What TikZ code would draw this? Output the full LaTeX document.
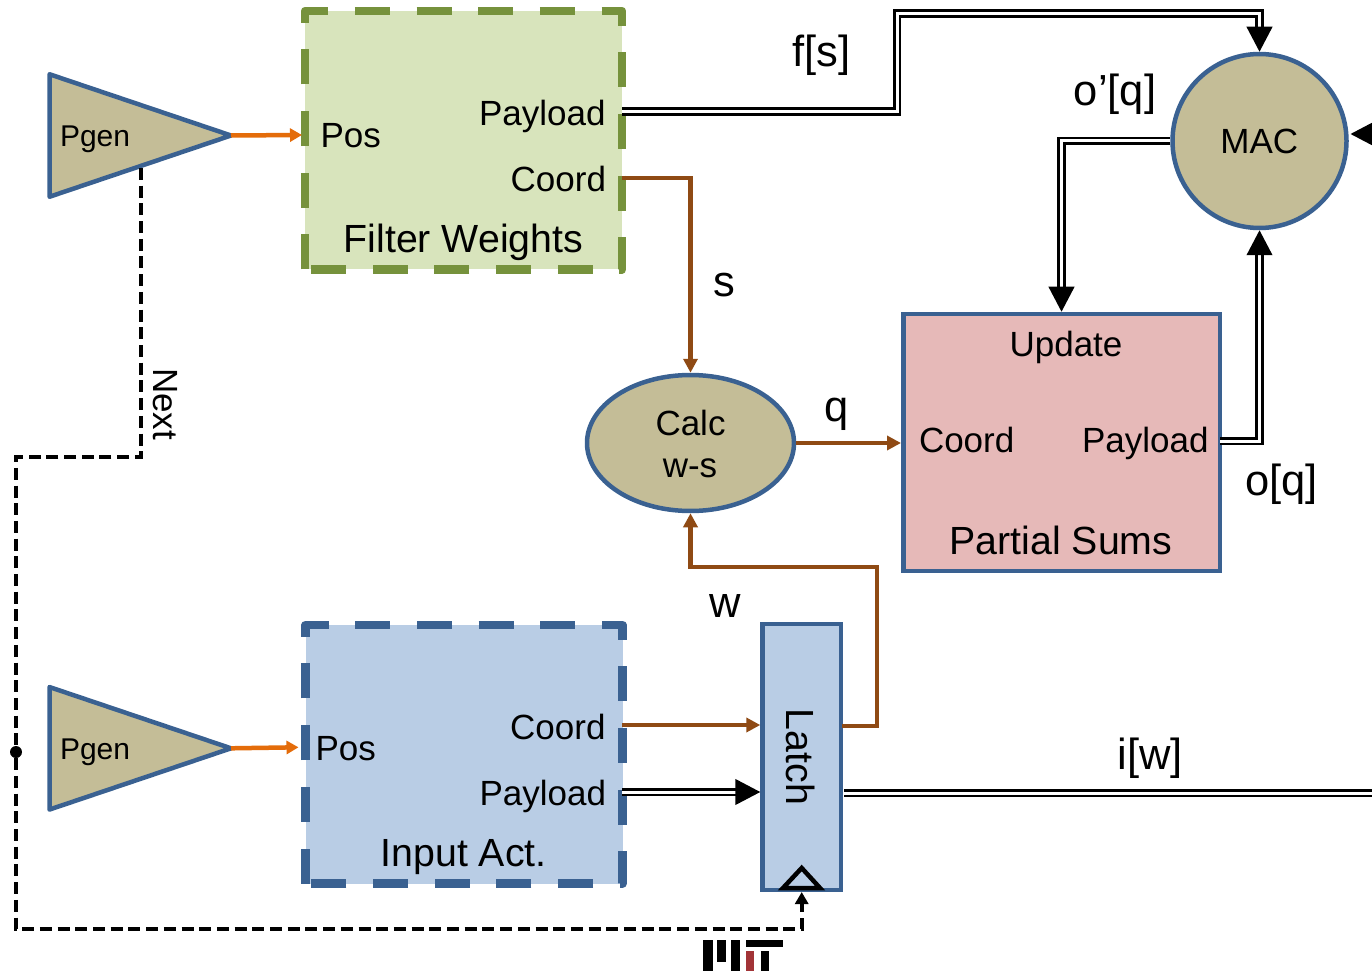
\documentclass[tikz,border=0pt]{standalone}
\usepackage{fontspec}
\setmainfont{Liberation Sans}
\usetikzlibrary{arrows.meta,shapes.geometric}
\definecolor{tanfill}{HTML}{C4BD97}
\definecolor{edgeblue}{HTML}{3A6191}
\definecolor{leaf}{HTML}{D8E4BC}
\definecolor{olive}{HTML}{76923C}
\definecolor{sky}{HTML}{B9CDE5}
\definecolor{rose}{HTML}{E6B9B8}
\definecolor{rust}{HTML}{8F4A14}
\definecolor{amber}{HTML}{E46C0A}
\definecolor{logored}{HTML}{A23437}
\newcommand{\fsa}{\fontsize{30}{34}\selectfont}
\newcommand{\fsb}{\fontsize{35}{40}\selectfont}
\newcommand{\fsc}{\fontsize{39.3}{44}\selectfont}
\newcommand{\fsd}{\fontsize{43.5}{48}\selectfont}
\tikzset{
  lab/.style={anchor=base,inner sep=0pt,outer sep=0pt,font=\fsb},
  labr/.style={lab,anchor=base east},
  labl/.style={lab,anchor=base west},
  unit/.style={draw=edgeblue,line width=4.5pt,fill=tanfill},
  pgen/.style={unit,isosceles triangle,isosceles triangle stretches,shape border rotate=0,
    minimum width=122.5pt,minimum height=181.5pt,inner sep=0pt,outer sep=0pt,anchor=apex,line join=round},
  mem/.style={inner sep=0pt,outer sep=0pt,minimum width=317pt,minimum height=258.5pt},
  memedge/.style={line width=8.5pt,line join=round,dash pattern=on 35pt off 26.67pt},
  block/.style={draw=edgeblue,line width=4.5pt,inner sep=0pt},
  dbl/.style={draw=black,line width=2.6pt,double=white,double distance=3pt},
  dblarrow/.style={dbl,-{Triangle[length=25pt,width=25.5pt]}},
  rustarrow/.style={draw=rust,line width=4.5pt,-{Triangle[length=14pt,width=14pt]}},
  amberarrow/.style={draw=amber,line width=4.5pt,-{Triangle[length=12pt,width=13pt]}},
  nextline/.style={draw=black,line width=4pt,dash pattern=on 12pt off 5.7pt,
    -{Triangle[length=12pt,width=13pt]}}
}
\begin{document}
\begin{tikzpicture}[x=1pt,y=-1pt]
\path[use as bounding box,clip] (0,0) rectangle (1372,973);
\fill[white] (0,0) rectangle (1372,973);
\node [mem,fill=leaf] (fw) at (463.5,140.25) {};
\draw [memedge,draw=olive] (fw.south west) -- (fw.north west) -- (fw.north east) -- (fw.south east) -- cycle;
\node [mem,fill=sky] (ia) at (464,754.25) {};
\draw [memedge,draw=edgeblue] (ia.south west) -- (ia.north west) -- (ia.north east) -- (ia.south east) -- cycle;
\node [pgen] (pgf) at (231,135.5) {};
\node [pgen] (pgi) at (231,748.3) {};
\node [block,fill=rose,minimum width=316.5pt,minimum height=257pt] (ps) at (1061.5,442.5) {};
\node [block,fill=sky,minimum width=78.5pt,minimum height=266pt] (latch) at (801.8,757) {};
\node [unit,circle,inner sep=0pt,minimum size=174pt] (mac) at (1259.5,141) {};
\node [unit,ellipse,inner sep=0pt,minimum width=207pt,minimum height=136pt] (calc) at (690.5,443) {};
\node [circle,fill=black,inner sep=0pt,minimum size=12pt] (tap) at (16,752) {};
\coordinate (fwpos) at (302,135);
\coordinate (iapos) at (298.5,747.3);
\coordinate (fwpay) at (622,111.5);
\coordinate (fwco) at (622,178);
\coordinate (iaco) at (622,725);
\coordinate (iapay) at (622,792);
\coordinate (pspay) at (1220,441);
\coordinate (latw) at (842,726);
\coordinate (latiw) at (844,793);
\coordinate (iwend) at (1385,793);
\coordinate (macin) at (1385,134);
\coordinate (macport) at (1350.5,134);
\coordinate (clk) at (801.7,892);
\coordinate (nextstart) at (141,168);
\draw [amberarrow] (pgf.apex) -- (fwpos);
\draw [amberarrow] (pgi.apex) -- (iapos);
\draw [dblarrow] (fwpay) -| (897,13.5) -| (mac.north);
\draw [dblarrow] (mac.west) -| (ps.north);
\draw [dblarrow] (pspay) -| (mac.south);
\draw [dblarrow] (macin) -- (macport);
\draw [dblarrow] (iapay) -- (iapay -| latch.west);
\draw [dbl] (latiw) -- (iwend);
\draw [rustarrow] (fwco) -| (calc.north);
\draw [rustarrow] (calc.east) -- (calc.east -| ps.west);
\draw [rustarrow] (iaco) -- (iaco -| latch.west);
\draw [rustarrow] (latw) -- (877,726) -- (877,567) -| (calc.south);
\draw [nextline] (nextstart) -- (141,457) -- (16,457) -- (tap) -- (16,929) -| (clk);
\draw [line width=4.5pt,line join=miter] (783,888) -- (801.7,868) -- (820,888) -- cycle;
\node [lab,font=\fsa,anchor=base west] at (60,146.7) {Pgen};
\node [lab,font=\fsa,anchor=base west] at (60,759.4) {Pgen};
\node [labl] at (320.5,148) {Pos};
\node [labr] at (605.5,125.5) {Payload};
\node [labr] at (606,191.5) {Coord};
\node [lab,font=\fsc] at (463.5,253) {Filter Weights};
\node [labl] at (315.5,760) {Pos};
\node [labr] at (605.5,739.5) {Coord};
\node [labr] at (606,805.5) {Payload};
\node [lab,font=\fsc] at (463.7,866.3) {Input Act.};
\node [lab] at (1259.3,153.3) {MAC};
\node [lab] at (690.5,435) {Calc};
\node [lab] at (690,477) {w-s};
\node [lab] at (1066,356) {Update};
\node [labl] at (919,452.5) {Coord};
\node [labr] at (1208.5,452.5) {Payload};
\node [lab,font=\fsc] at (1061,554.5) {Partial Sums};
\node [lab,font=\fsc,rotate=-90] at (786.5,757) {Latch};
\node [lab,rotate=-90] at (153,404) {Next};
\node [lab,font=\fsd] at (821.5,67) {f[s]};
\node [lab,font=\fsd] at (1115,106) {o’[q]};
\node [lab,font=\fsd] at (724,297) {s};
\node [lab,font=\fsd] at (836.5,421) {q};
\node [lab,font=\fsd] at (725,617) {w};
\node [lab,font=\fsd] at (1281.5,495) {o[q]};
\node [lab,font=\fsd] at (1150,769) {i[w]};
\fill (703,940) rectangle (713,971);
\fill (717,940) rectangle (726,962);
\fill (731,940) rectangle (740,971);
\fill (746,940) rectangle (783,947);
\fill [logored] (746,951) rectangle (754,971);
\fill (761,951) rectangle (769,971);
\end{tikzpicture}
\end{document}
